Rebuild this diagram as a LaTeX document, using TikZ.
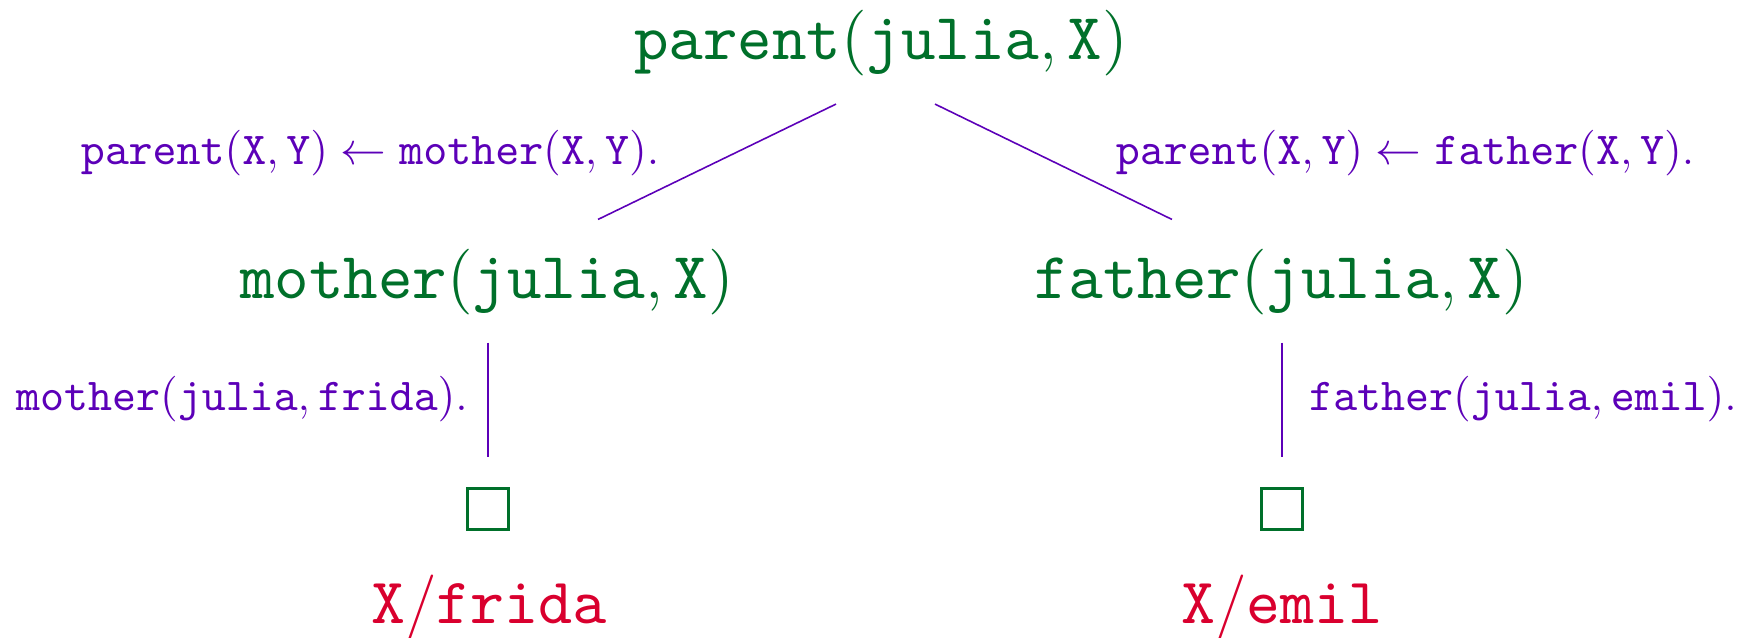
\RequirePackage{fix-cm}
\documentclass[tikz,border=0pt]{standalone}
\usetikzlibrary{positioning,calc}

\DeclareFontShape{OT1}{cmtt}{m}{n}{<->cmtt10}{}
\DeclareFontShape{OT1}{cmr}{m}{n}{<->cmr10}{}
\definecolor{goalgreen}{RGB}{0,112,42}
\definecolor{rulepurple}{RGB}{92,0,184}
\definecolor{substred}{RGB}{217,0,46}
\newcommand{\prl}[1]{\mathtt{#1}}

\begin{document}
\begin{tikzpicture}[
                goal/.style={inner sep=0pt, text=goalgreen, font=\fontsize{18.7}{22}\selectfont},
                clause/.style={inner sep=0pt, text=rulepurple, font=\fontsize{13}{16}\selectfont},
                subst/.style={inner sep=0pt, text=substred, font=\fontsize{18.4}{22}\selectfont},
                emptygoal/.style={draw=goalgreen, line width=0.6pt, minimum size=4.1mm, inner sep=0pt},
                edge/.style={rulepurple, line width=0.45pt},
            ]

            \useasboundingbox (0, 0) rectangle (17.54, -6.37);

            % goals
            \node[goal] (parent) at (8.81, -0.435) {$\prl{parent}(\prl{julia},\prl{X})$};
            \node[goal] (mother) at (4.87, -2.82) {$\prl{mother}(\prl{julia},\prl{X})$};
            \node[goal] (father) at (12.81, -2.82) {$\prl{father}(\prl{julia},\prl{X})$};

            % empty goals
            \node[emptygoal] (emptyL) at (4.88, -5.09) {};
            \node[emptygoal] (emptyR) at (12.82, -5.09) {};

            % answers
            \node[subst] (answerL) at (4.89, -6.07) {$\prl{X}/\prl{frida}$};
            \node[subst] (answerR) at (12.82, -6.07) {$\prl{X}/\prl{emil}$};

            % edges
            \draw[edge] ([shift={(-0.45,-0.27)}]parent.south) -- ([shift={(1.11,0.29)}]mother.north);
            \draw[edge] ([shift={(0.54,-0.27)}]parent.south) -- ([shift={(-1.09,0.29)}]father.north);
            \draw[edge, shorten <=2.7mm, shorten >=3mm] (mother.south -| emptyL) -- (emptyL.north);
            \draw[edge, shorten <=2.7mm, shorten >=3mm] (father.south -| emptyR) -- (emptyR.north);

            % clauses
            \node[clause] (ruleL) at (3.70, -1.53) {$\prl{parent}(\prl{X},\prl{Y}) \leftarrow \prl{mother}(\prl{X},\prl{Y}).$};
            \node[clause] (ruleR) at (14.05, -1.53) {$\prl{parent}(\prl{X},\prl{Y}) \leftarrow \prl{father}(\prl{X},\prl{Y}).$};
            \node[clause] (factL) at (2.42, -3.99) {$\prl{mother}(\prl{julia},\prl{frida}).$};
            \node[clause] (factR) at (15.23, -3.99) {$\prl{father}(\prl{julia},\prl{emil}).$};
        \end{tikzpicture}
\end{document}
